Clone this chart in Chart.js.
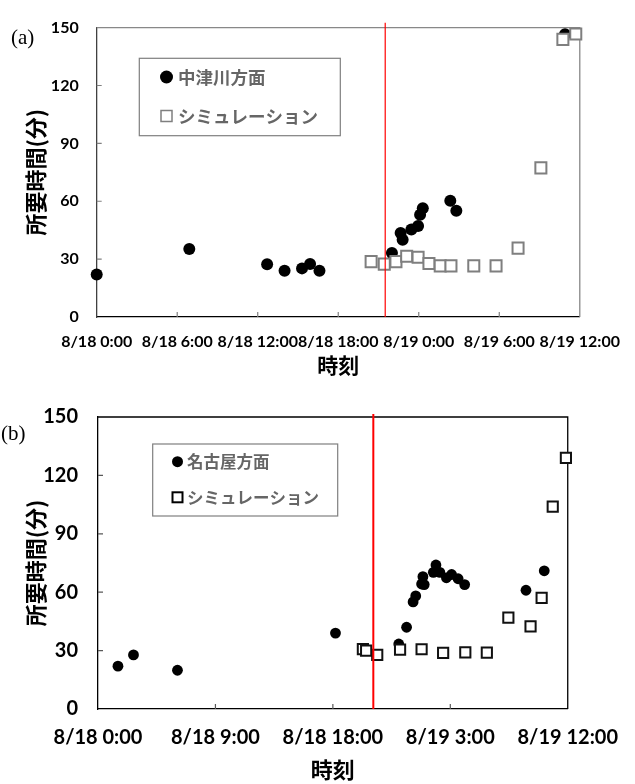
<!DOCTYPE html>
<html>
<head>
<meta charset="utf-8">
<script src="https://cdn.jsdelivr.net/npm/chart.js@4.4.1/dist/chart.umd.min.js"></script>
<style>
  body { margin: 0; background: #fff; }
  canvas { display: block; }
</style>
</head>
<body>
<canvas id="chartA" width="635" height="385" style="width:635px;height:385px"></canvas>
<canvas id="chartB" width="635" height="399" style="width:635px;height:399px"></canvas>
<script>
// x values are hours counted from 8/18 0:00, y values are minutes

// (a) 中津川方面
const nakatsugawaHours = [0, 6.9, 12.7, 14.0, 15.3, 15.9, 16.6, 22.0, 22.65, 22.8, 23.45, 23.95, 24.1, 24.3, 26.35, 26.8, 34.9];
const nakatsugawaMinutes = [22, 35.2, 27.3, 24, 25.2, 27.5, 24, 33.2, 43.5, 40.1, 45.3, 47.2, 53, 56.4, 60.2, 55.1, 146.5];
const simAHours = [20.45, 21.43, 22.3, 23.1, 23.95, 24.76, 25.6, 26.4, 28.1, 29.76, 31.4, 33.1, 34.74, 35.7];
const simAMinutes = [28.7, 27.4, 28.7, 31.5, 31.0, 27.7, 26.5, 26.5, 26.5, 26.5, 35.7, 77.3, 143.9, 146.7];

// (b) 名古屋方面
const nagoyaHours = [1.53, 2.72, 6.09, 18.2, 23.05, 23.65, 24.15, 24.35, 24.8, 25.0, 24.9, 25.7, 25.9, 26.2, 26.7, 27.1, 27.6, 28.1, 32.8, 34.2];
const nagoyaMinutes = [22.0, 27.8, 19.9, 39.0, 33.4, 42.0, 55.0, 58.1, 64.2, 63.9, 68.0, 70.2, 74.0, 70.2, 67.4, 69.1, 66.9, 63.9, 61.0, 71.0];
const simBHours = [20.3, 20.55, 21.4, 23.15, 24.8, 26.45, 28.15, 29.8, 31.45, 33.15, 34.0, 34.85, 35.86];
const simBMinutes = [30.8, 30.0, 27.8, 30.5, 30.7, 28.8, 29.1, 29.0, 46.9, 42.4, 57.1, 104, 129];

const xTickLabelsA = ['8/18 0:00', '8/18 6:00', '8/18 12:00', '8/18 18:00', '8/19 0:00', '8/19 6:00', '8/19 12:00'];
const xTickLabelsB = ['8/18 0:00', '8/18 9:00', '8/18 18:00', '8/19 3:00', '8/19 12:00'];
const yTickLabels = ['0', '30', '60', '90', '120', '150'];

// red marker lines (time, and top of the line in minutes)
const markerA = [21.5, 152.5];
const markerB = [21.1, 151.5];

const JP = '"Noto Sans CJK JP", "Noto Sans", sans-serif';

function toPoints(xs, ys) {
    return xs.map((x, i) => ({ x: x, y: ys[i] }));
}

// frame, inner tick marks, legend box and panel letter
function decor(o) {
    return {
        id: 'decor',
        beforeDatasetsDraw(chart) {
            const ctx = chart.ctx;
            const a = chart.chartArea;
            const xs = chart.scales.x, ys = chart.scales.y;
            ctx.save();
            ctx.strokeStyle = o.frame;
            ctx.lineWidth = 1.3;
            ctx.beginPath();
            ctx.moveTo(a.left, a.top);
            ctx.lineTo(a.right, a.top);
            ctx.lineTo(a.right, a.bottom);
            ctx.stroke();

            ctx.strokeStyle = o.tick;
            ctx.lineWidth = 1.2;
            ctx.beginPath();
            xs.ticks.forEach((t, i) => {
                if (i === 0 || i === xs.ticks.length - 1) return;
                const px = xs.getPixelForValue(t.value);
                ctx.moveTo(px, a.bottom);
                ctx.lineTo(px, a.bottom - 5);
            });
            ys.ticks.forEach((t, i) => {
                if (i === 0 || i === ys.ticks.length - 1) return;
                const py = ys.getPixelForValue(t.value);
                ctx.moveTo(a.left, py);
                ctx.lineTo(a.left + 5, py);
            });
            ctx.stroke();
            ctx.restore();
        },
        afterDraw(chart) {
            const ctx = chart.ctx;
            const L = o.legend;
            ctx.save();
            ctx.strokeStyle = '#7f7f7f';
            ctx.lineWidth = 1.2;
            ctx.strokeRect(L.x, L.y, L.w, L.h);

            ctx.fillStyle = '#000';
            ctx.beginPath();
            ctx.arc(L.mx, L.row1, L.dot, 0, Math.PI * 2);
            ctx.fill();

            ctx.strokeStyle = L.boxColor;
            ctx.lineWidth = L.boxWidth;
            ctx.strokeRect(L.mx - L.box / 2, L.row2 - L.box / 2, L.box, L.box);

            ctx.fillStyle = '#666';
            ctx.font = 'bold ' + L.size + 'px ' + JP;
            ctx.textBaseline = 'middle';
            ctx.fillText(L.text1, L.tx, L.row1);
            ctx.fillText(L.text2, L.tx, L.row2);

            ctx.fillStyle = '#000';
            ctx.font = o.letterSize + 'px "Liberation Serif", "DejaVu Serif", serif';
            ctx.fillText(o.letter, o.letterX, o.letterY);
            ctx.restore();
        }
    };
}

function makeChart(id, d) {
    new Chart(document.getElementById(id), {
        type: 'scatter',
        data: {
            datasets: [
                {
                    type: 'line',
                    data: [{ x: d.marker[0], y: 0 }, { x: d.marker[0], y: d.marker[1] }],
                    borderColor: '#ff0000',
                    borderWidth: d.redWidth,
                    pointRadius: 0,
                    clip: false,
                    order: 0
                },
                {
                    label: 'シミュレーション',
                    data: toPoints(d.simX, d.simY),
                    pointStyle: 'rect',
                    pointRadius: d.squareRadius,
                    backgroundColor: '#fff',
                    borderColor: d.squareColor,
                    borderWidth: 2,
                    clip: false,
                    order: 1
                },
                {
                    label: d.name,
                    data: toPoints(d.obsX, d.obsY),
                    pointRadius: d.dotRadius,
                    backgroundColor: '#000',
                    borderWidth: 0,
                    clip: false,
                    order: 2
                }
            ]
        },
        options: {
            responsive: false,
            animation: false,
            events: [],
            layout: { padding: d.padding },
            plugins: { legend: { display: false }, tooltip: { enabled: false } },
            scales: {
                x: {
                    type: 'linear',
                    min: 0,
                    max: 36,
                    afterFit: (s) => { s.height = d.xHeight; },
                    grid: { display: false, drawTicks: false },
                    border: { display: true, color: '#000', width: 1.3 },
                    ticks: {
                        stepSize: d.xStep,
                        autoSkip: false,
                        maxRotation: 0,
                        minRotation: 0,
                        padding: d.xPad,
                        color: '#000',
                        font: { family: 'Lato', weight: 'bold', size: d.tickSize },
                        callback: (v, i) => d.xLabels[i]
                    },
                    title: {
                        display: true,
                        text: '時刻',
                        color: '#000',
                        padding: 0,
                        font: { family: JP, weight: 'bold', size: d.titleSize }
                    }
                },
                y: {
                    min: 0,
                    max: 150,
                    afterFit: (s) => { s.width = d.yWidth; },
                    grid: { display: false, drawTicks: false },
                    border: { display: true, color: d.yAxisColor, width: 1.3 },
                    ticks: {
                        stepSize: 30,
                        padding: d.yPad,
                        color: '#000',
                        font: { family: 'Lato', weight: 'bold', size: d.tickSize },
                        callback: (v, i) => yTickLabels[i]
                    },
                    title: {
                        display: true,
                        text: '所要時間(分)',
                        color: '#000',
                        padding: { top: d.yTitlePad, bottom: 0 },
                        font: { family: JP, weight: 'bold', size: d.yTitleSize }
                    }
                }
            }
        },
        plugins: [decor(d.decor)]
    });
}

makeChart('chartA', {
    name: '中津川方面',
    obsX: nakatsugawaHours, obsY: nakatsugawaMinutes,
    simX: simAHours, simY: simAMinutes,
    marker: markerA, redWidth: 1.2,
    xLabels: xTickLabelsA, xStep: 6,
    padding: { top: 15, right: 51.7, bottom: 7, left: 18 },
    xHeight: 61, yWidth: 78.7,
    xPad: 15, yPad: 18, tickSize: 16, titleSize: 21, yTitleSize: 22, yTitlePad: 4,
    squareRadius: 7.8, squareColor: '#7f7f7f', dotRadius: 6,
    yAxisColor: '#404040',
    decor: {
        frame: '#888', tick: '#808080',
        letter: '(a)', letterX: 11, letterY: 38, letterSize: 21,
        legend: { x: 139.3, y: 58.3, w: 201, h: 77.4, mx: 166.5, row1: 77, row2: 116, dot: 6.5,
                  box: 11, boxColor: '#7f7f7f', boxWidth: 1.5, tx: 178, size: 17.5,
                  text1: '中津川方面', text2: 'シミュレーション' }
    }
});

makeChart('chartB', {
    name: '名古屋方面',
    obsX: nagoyaHours, obsY: nagoyaMinutes,
    simX: simBHours, simY: simBMinutes,
    marker: markerB, redWidth: 2,
    xLabels: xTickLabelsB, xStep: 9,
    padding: { top: 30.7, right: 61.7, bottom: 1, left: 18 },
    xHeight: 74, yWidth: 80,
    xPad: 17, yPad: 20, tickSize: 20, titleSize: 22, yTitleSize: 22, yTitlePad: 4,
    squareRadius: 7.2, squareColor: '#111', dotRadius: 5.4,
    yAxisColor: '#000',
    decor: {
        frame: '#000', tick: '#595959',
        letter: '(b)', letterX: 1, letterY: 49, letterSize: 21,
        legend: { x: 152.7, y: 59, w: 185, h: 72, mx: 177.5, row1: 76.7, row2: 112.3, dot: 5.5,
                  box: 10, boxColor: '#000', boxWidth: 2, tx: 187, size: 16.5,
                  text1: '名古屋方面', text2: 'シミュレーション' }
    }
});
</script>
</body>
</html>
